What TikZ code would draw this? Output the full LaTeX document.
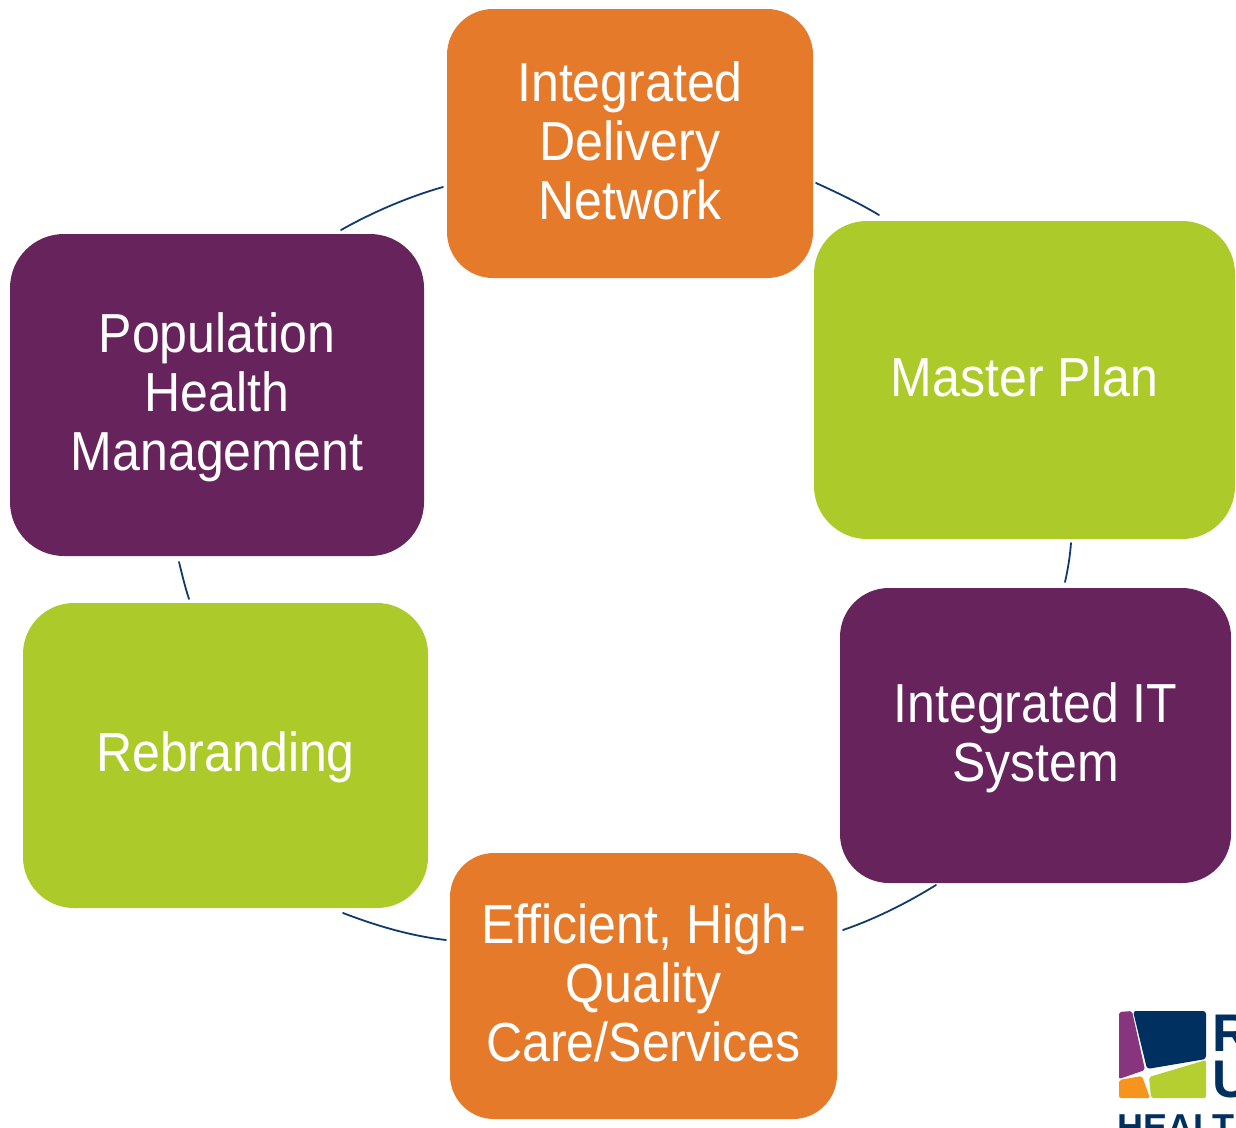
\documentclass[tikz,border=0pt]{standalone}
\usepackage{fontspec}
\setmainfont{Liberation Sans}
\newfontfamily\cardfont[FakeStretch=0.91]{Liberation Sans}
\definecolor{orangebox}{HTML}{E57B2A}
\definecolor{greenbox}{HTML}{ACCB2A}
\definecolor{purplebox}{HTML}{67235B}
\definecolor{navyline}{HTML}{0F3A6E}
\definecolor{logoblue}{HTML}{00305F}
\definecolor{logopurple}{HTML}{87357F}
\definecolor{logoorange}{HTML}{F7941E}
\definecolor{logogreen}{HTML}{B5CF30}
\tikzset{
 x=1pt,y=-1pt,
 card/.style={rounded corners=#1,inner sep=0pt},
 cardtext/.style={inner sep=0pt,align=center,text=white,font=\cardfont\fontsize{55}{59}\selectfont},
 link/.style={draw=navyline,line width=1.8pt,line cap=round},
 logotext/.style={text=logoblue,inner sep=0pt,anchor=base west,font=\bfseries}
}
\begin{document}
\begin{tikzpicture}
\useasboundingbox (0,0) rectangle (1236,1127);
\node[card=46pt,fill=orangebox,minimum width=366pt,minimum height=269pt,label={[cardtext,yshift=3pt]center:{Integrated\\Delivery\\Network}}] (idn) at (630,143.5) {};
\node[card=53pt,fill=greenbox,minimum width=421pt,minimum height=318pt,label={[cardtext,yshift=3pt]center:{Master Plan}}] (mp) at (1024.5,380) {};
\node[card=49pt,fill=purplebox,minimum width=391pt,minimum height=295pt,label={[cardtext,yshift=-2pt]center:{Integrated IT\\System}}] (it) at (1035.5,735.5) {};
\node[card=44pt,fill=orangebox,minimum width=387pt,minimum height=266pt,label={[cardtext,yshift=3pt]center:{Efficient, High-\\Quality\\Care/Services}}] (eh) at (643.5,986) {};
\node[card=51pt,fill=greenbox,minimum width=405pt,minimum height=305pt,label={[cardtext,yshift=-2pt]center:{Rebranding}}] (reb) at (225.5,755.5) {};
\node[card=54pt,fill=purplebox,minimum width=414pt,minimum height=322pt,label={[cardtext,yshift=-2pt]center:{Population\\Health\\Management}}] (phm) at (217,395) {};
\coordinate (a1) at (816,183);\coordinate (a2) at (879,215);
\coordinate (b1) at (1071,543);\coordinate (b2) at (1065,582);
\coordinate (c1) at (936,885);\coordinate (c2) at (843,930);
\coordinate (d1) at (446,940);\coordinate (d2) at (343,913);
\coordinate (e1) at (189,599);\coordinate (e2) at (179,562);
\coordinate (f1) at (341,230);\coordinate (f2) at (443,187);
\draw[link] (a1) .. controls (838,193) and (859,203) .. (a2);
\draw[link] (b1) .. controls (1070,556) and (1068,569) .. (b2);
\draw[link] (c1) .. controls (907,903) and (875,919) .. (c2);
\draw[link] (d1) .. controls (411,936) and (377,926) .. (d2);
\draw[link] (e1) .. controls (185,587) and (182,574) .. (e2);
\draw[link] (f1) .. controls (373,212) and (408,197) .. (f2);
% logo
\fill[logopurple,rounded corners=2pt] (1119,1012) -- (1132,1011) -- (1145,1070) -- (1119,1079) -- cycle;
\fill[logoblue,rounded corners=3pt] (1133,1011) -- (1206,1011) -- (1206,1059) -- (1147,1069) -- cycle;
\fill[logogreen,rounded corners=2pt] (1149,1077) -- (1206,1060) -- (1206,1098) -- (1151,1098) -- cycle;
\fill[logoorange,rounded corners=2pt] (1119,1080) -- (1142,1076) -- (1150,1098) -- (1119,1098) -- cycle;
\begin{scope}
\clip (1100,1000) rectangle (1236,1127);
\node[logotext,font=\bfseries\fontsize{53}{53}\selectfont] (r) at (1212,1051) {R};
\node[logotext,font=\bfseries\fontsize{53}{53}\selectfont] (u) at (1212,1097) {U};
\node[logotext,font=\bfseries\fontsize{36}{36}\selectfont] (h) at (1117,1139) {HEALTH};
\end{scope}
\end{tikzpicture}
\end{document}
